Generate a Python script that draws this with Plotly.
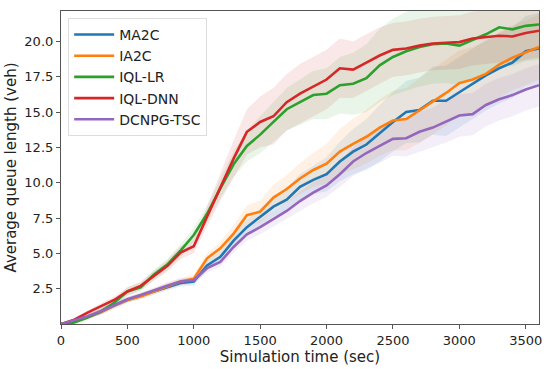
import plotly.graph_objects as go

time_sec = list(range(0, 3601, 100))

ma2c = [0.0, 0.2, 0.5, 0.85, 1.3, 1.7, 2.0, 2.3, 2.6, 2.9, 3.0, 4.15, 4.75, 5.9, 6.85, 7.55,
        8.3, 8.8, 9.7, 10.2, 10.6, 11.5, 12.2, 12.7, 13.5, 14.3, 15.0, 15.15, 15.8, 15.8,
        16.4, 17.0, 17.6, 18.1, 18.5, 19.3, 19.5]
ia2c = [0.0, 0.2, 0.5, 0.85, 1.3, 1.7, 1.95, 2.3, 2.7, 3.0, 3.2, 4.65, 5.35, 6.4, 7.7, 7.95,
        8.95, 9.55, 10.3, 10.9, 11.35, 12.2, 12.75, 13.25, 13.9, 14.4, 14.5, 15.1, 15.75, 16.35,
        17.05, 17.3, 17.7, 18.35, 18.85, 19.2, 19.6]
iql_lr = [0.0, 0.1, 0.45, 0.9, 1.5, 2.3, 2.6, 3.5, 4.2, 5.2, 6.3, 7.8, 9.6, 11.3, 12.6, 13.4,
          14.3, 15.2, 15.7, 16.2, 16.3, 16.9, 17.0, 17.4, 18.3, 18.9, 19.3, 19.6, 19.8, 19.85,
          19.7, 20.1, 20.5, 21.0, 20.85, 21.1, 21.2]
iql_dnn = [0.0, 0.3, 0.8, 1.25, 1.7, 2.3, 2.7, 3.4, 4.1, 5.05, 5.5, 7.6, 9.7, 11.7, 13.6, 14.3,
           14.7, 15.7, 16.3, 16.8, 17.3, 18.1, 18.0, 18.5, 19.0, 19.4, 19.5, 19.7, 19.85, 19.9,
           19.95, 20.2, 20.3, 20.4, 20.35, 20.6, 20.75]
dcnpg = [0.0, 0.25, 0.55, 0.9, 1.35, 1.75, 2.05, 2.4, 2.7, 3.0, 3.1, 3.95, 4.4, 5.45, 6.35, 6.85,
         7.45, 8.0, 8.7, 9.3, 9.8, 10.6, 11.5, 12.1, 12.6, 13.1, 13.15, 13.6, 13.9, 14.35,
         14.75, 14.85, 15.5, 15.9, 16.2, 16.6, 16.9]

# spread (half-width of shaded band)
ma2c_sd = [0.05, 0.1, 0.15, 0.2, 0.2, 0.2, 0.2, 0.2, 0.25, 0.25, 0.3, 0.35, 0.4, 0.5, 0.55, 0.6,
           0.7, 0.8, 0.9, 1.0, 1.2, 1.4, 1.6, 1.8, 2.0, 2.1, 2.2, 2.3, 2.4, 2.5,
           2.5, 2.5, 2.5, 2.5, 2.5, 2.5, 2.5]
ia2c_sd = [0.05, 0.1, 0.15, 0.2, 0.2, 0.2, 0.2, 0.2, 0.25, 0.25, 0.3, 0.35, 0.45, 0.6, 0.7, 0.8,
           0.9, 1.0, 1.1, 1.2, 1.4, 1.6, 1.8, 1.9, 2.0, 2.1, 2.2, 2.3, 2.3, 2.3,
           2.3, 2.3, 2.3, 2.3, 2.3, 2.3, 2.3]
iql_lr_sd = [0.05, 0.1, 0.15, 0.2, 0.25, 0.3, 0.3, 0.35, 0.4, 0.45, 0.5, 0.6, 0.7, 0.9, 1.1, 1.3,
             1.4, 1.5, 1.6, 1.7, 1.8, 2.0, 2.2, 2.4, 2.6, 2.7, 2.8, 2.8, 2.8, 2.8,
             2.8, 2.8, 2.7, 2.6, 2.6, 2.5, 2.5]
iql_dnn_sd = [0.05, 0.1, 0.15, 0.2, 0.25, 0.3, 0.3, 0.35, 0.4, 0.45, 0.5, 0.7, 1.0, 1.3, 1.6, 1.8,
              2.0, 2.0, 2.1, 2.1, 2.1, 2.1, 2.0, 2.0, 2.0, 1.9, 1.9, 1.9, 1.9, 1.9,
              1.9, 1.9, 1.9, 1.9, 1.9, 1.9, 1.9]
dcnpg_sd = [0.05, 0.1, 0.15, 0.2, 0.2, 0.2, 0.2, 0.2, 0.2, 0.25, 0.25, 0.3, 0.35, 0.4, 0.45, 0.5,
            0.55, 0.6, 0.7, 0.75, 0.8, 0.9, 1.0, 1.1, 1.2, 1.2, 1.3, 1.4, 1.4, 1.5,
            1.5, 1.5, 1.5, 1.5, 1.5, 1.5, 1.5]

names = ["MA2C", "IA2C", "IQL-LR", "IQL-DNN", "DCNPG-TSC"]
series = [ma2c, ia2c, iql_lr, iql_dnn, dcnpg]
spreads = [ma2c_sd, ia2c_sd, iql_lr_sd, iql_dnn_sd, dcnpg_sd]
colors = ["#1f77b4", "#ff7f0e", "#2ca02c", "#d62728", "#9467bd"]
fills = ["rgba(31,119,180,0.11)", "rgba(255,127,14,0.11)", "rgba(44,160,44,0.11)",
         "rgba(214,39,40,0.11)", "rgba(148,103,189,0.11)"]

fig = go.Figure()
for ys, sd, fc in zip(series, spreads, fills):
    upper = [y + s for y, s in zip(ys, sd)]
    lower = [max(y - s, 0) for y, s in zip(ys, sd)]
    fig.add_trace(go.Scatter(x=time_sec + time_sec[::-1], y=upper + lower[::-1],
                             fill="toself", fillcolor=fc, line=dict(width=0),
                             mode="lines", showlegend=False, hoverinfo="skip"))
for name, ys, c in zip(names, series, colors):
    fig.add_trace(go.Scatter(x=time_sec, y=ys, mode="lines", name=name,
                             line=dict(color=c, width=2.6)))

axis_common = dict(showline=True, linecolor="#555", linewidth=1.2, mirror=True,
                   ticks="outside", ticklen=4, tickcolor="#555", showgrid=False,
                   zeroline=False, automargin=False, tickfont=dict(size=13, color="#222"))
fig.update_xaxes(range=[0, 3600], tickvals=[0, 500, 1000, 1500, 2000, 2500, 3000, 3500],
                 title=dict(text="Simulation time (sec)", font=dict(size=15, color="#222"), standoff=2),
                 **axis_common)
fig.update_yaxes(range=[0, 22.15], tickvals=[2.5, 5, 7.5, 10, 12.5, 15, 17.5, 20],
                 tickformat=".1f",
                 title=dict(text="Average queue length (veh)", font=dict(size=15, color="#222"), standoff=4),
                 **axis_common)
fig.update_layout(
    width=550, height=369,
    margin=dict(l=61, r=11, t=11, b=45),
    plot_bgcolor="white", paper_bgcolor="white",
    font=dict(family="DejaVu Sans", color="#222"),
    legend=dict(x=0.015, y=0.978, xanchor="left", yanchor="top",
                bgcolor="rgba(255,255,255,0.85)", bordercolor="#ddd", borderwidth=1,
                font=dict(size=14), itemwidth=40, tracegroupgap=0),
)
fig.write_html("out.html", config={"displayModeBar": False},
               post_script="document.body.style.margin='0';document.body.style.overflow='hidden';")
